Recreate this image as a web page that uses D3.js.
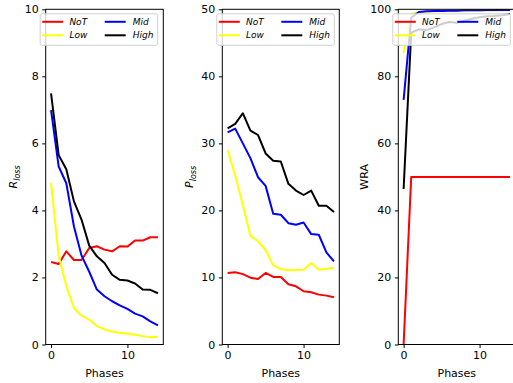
<!DOCTYPE html>
<html><head><meta charset="utf-8">
<script src="https://cdn.jsdelivr.net/npm/d3@7"></script>
<style>body{margin:0;background:#fff}svg{display:block}text{font-family:"DejaVu Sans",sans-serif}</style>
</head><body><svg id="c" width="513" height="383"></svg>
<script>
const phases = d3.range(0, 15);
const seriesNames = ["NoT", "Low", "Mid", "High"];
const seriesColors = ["#ff0000", "#ffff00", "#0000ff", "#000000"];

const rNoT  = [2.46, 2.40, 2.78, 2.52, 2.52, 2.88, 2.93, 2.83, 2.78, 2.93, 2.92, 3.10, 3.10, 3.20, 3.20];
const rLow  = [4.82, 2.65, 1.74, 1.09, 0.86, 0.74, 0.55, 0.45, 0.39, 0.35, 0.32, 0.29, 0.25, 0.22, 0.23];
const rMid  = [6.99, 5.31, 4.81, 3.52, 2.65, 2.17, 1.64, 1.44, 1.29, 1.17, 1.06, 0.92, 0.84, 0.69, 0.57];
const rHigh = [7.49, 5.65, 5.23, 4.27, 3.72, 2.95, 2.63, 2.43, 2.08, 1.93, 1.91, 1.82, 1.64, 1.63, 1.53];

const pNoT  = [10.67, 10.77, 10.5, 9.97, 9.77, 10.67, 10.07, 10.07, 8.98, 8.68, 7.94, 7.8, 7.44, 7.29, 7.04];
const pLow  = [29.0, 25.2, 20.8, 16.2, 15.4, 14.1, 11.8, 11.26, 11.06, 11.1, 11.16, 12.15, 11.16, 11.26, 11.5];
const pMid  = [31.65, 32.2, 30.0, 27.8, 24.95, 23.66, 19.5, 19.35, 18.1, 17.86, 18.2, 16.47, 16.37, 13.74, 12.4];
const pHigh = [32.25, 32.9, 34.5, 31.9, 31.25, 28.5, 27.4, 27.3, 23.96, 22.96, 22.3, 22.96, 20.7, 20.7, 19.75];

const wNoT  = [0, 50, 50, 50, 50, 50, 50, 50, 50, 50, 50, 50, 50, 50, 50];
const wLow  = [87, 98.6, 99.2, 99.3, 99.4, 99.4, 99.5, 99.5, 99.5, 99.6, 99.6, 99.6, 99.6, 99.7, 99.7];
const wMid  = [73, 97.5, 99.2, 99.4, 99.5, 99.5, 99.6, 99.6, 99.7, 99.7, 99.7, 99.8, 99.8, 99.8, 99.8];
const wHigh = [46.4, 93.0, 94.0, 93.8, 94.6, 95.6, 96.2, 96.0, 96.6, 97.2, 97.6, 97.9, 98.0, 98.2, 98.6];

const xTicks = [0, 10];
const rTicks = [0, 2, 4, 6, 8, 10];
const pTicks = [0, 10, 20, 30, 40, 50];
const wTicks = [0, 20, 40, 60, 80, 100];

const panels = [
  {left: 45.7, right: 163.3, ymax: 10, ticks: rTicks, data: [rNoT, rLow, rMid, rHigh], label: ["R", "loss"], labelX: 13},
  {left: 222.3, right: 339.3, ymax: 50, ticks: pTicks, data: [pNoT, pLow, pMid, pHigh], label: ["P", "loss"], labelX: 189},
  {left: 398.3, right: 515.3, ymax: 100, ticks: wTicks, data: [wNoT, wLow, wMid, wHigh], label: ["WRA"], labelX: 364}
];
const axTop = 9.3, axBottom = 344.5;
const svg = d3.select("#c");

panels.forEach((p, pi) => {
  const x = d3.scaleLinear().domain([-0.7, 14.7]).range([p.left, p.right]);
  const y = d3.scaleLinear().domain([0, p.ymax]).range([axBottom, axTop]);
  const g = svg.append("g");
  const clipId = "clip" + pi;
  g.append("clipPath").attr("id", clipId).append("rect")
    .attr("x", p.left).attr("y", axTop).attr("width", p.right - p.left).attr("height", axBottom - axTop);
  const line = d3.line().x((d, i) => x(phases[i])).y(d => y(d));
  const lg = g.append("g").attr("clip-path", `url(#${clipId})`);
  p.data.forEach((s, si) => {
    lg.append("path").attr("d", line(s)).attr("fill", "none")
      .attr("stroke", seriesColors[si]).attr("stroke-width", 2).attr("stroke-linejoin", "round");
  });
  const ax = g.append("g").attr("transform", `translate(0,${axBottom})`)
    .call(d3.axisBottom(x).tickValues(xTicks).tickSize(3.5).tickPadding(3.5).tickFormat(d3.format("d")));
  const ay = g.append("g").attr("transform", `translate(${p.left},0)`)
    .call(d3.axisLeft(y).tickValues(p.ticks).tickSize(3.5).tickPadding(3.5).tickFormat(d3.format("d")));
  [ax, ay].forEach(a => {
    a.select(".domain").remove();
    a.selectAll("text").attr("font-size", 11).attr("fill", "#000").attr("font-family", "DejaVu Sans");
    a.selectAll("line").attr("stroke", "#000").attr("stroke-width", 1);
  });
  g.append("rect").attr("x", p.left).attr("y", axTop).attr("width", p.right - p.left).attr("height", axBottom - axTop)
    .attr("fill", "none").attr("stroke", "#000").attr("stroke-width", 1);
  g.append("text").attr("x", (p.left + p.right) / 2).attr("y", 377).attr("text-anchor", "middle")
    .attr("font-size", 11).text("Phases");
  const yl = g.append("text").attr("transform", `translate(${p.labelX},${(axTop + axBottom) / 2}) rotate(-90)`)
    .attr("text-anchor", "middle").attr("dy", "0.35em").attr("font-size", 11);
  if (p.label.length === 2) {
    yl.append("tspan").attr("font-style", "italic").text(p.label[0]);
    yl.append("tspan").attr("font-style", "italic").attr("font-size", 8).attr("dy", 3).text(p.label[1]);
  } else {
    yl.text(p.label[0]);
  }
  const lx = p.left - 6, ly = 13.3;
  const leg = g.append("g");
  leg.append("rect").attr("x", lx + 0.5).attr("y", ly + 0.5).attr("width", 117.5).attr("height", 31.5).attr("rx", 2)
    .attr("fill", "#fff").attr("fill-opacity", 0.8).attr("stroke", "#d0d0d0").attr("stroke-width", 1);
  const order = [[0, 0, 0], [1, 0, 1], [2, 1, 0], [3, 1, 1]];
  order.forEach(([si, col, row]) => {
    const hx = lx + (col === 0 ? 2.5 : 65);
    const tx = lx + (col === 0 ? 29.7 : 93);
    const yy = ly + 8.5 + row * 13.5;
    leg.append("line").attr("x1", hx).attr("x2", hx + 21).attr("y1", yy).attr("y2", yy)
      .attr("stroke", seriesColors[si]).attr("stroke-width", 2);
    leg.append("text").attr("x", tx).attr("y", yy).attr("dy", "0.35em").attr("font-size", 9)
      .attr("font-style", "italic").text(seriesNames[si]);
  });
});
</script></body></html>
